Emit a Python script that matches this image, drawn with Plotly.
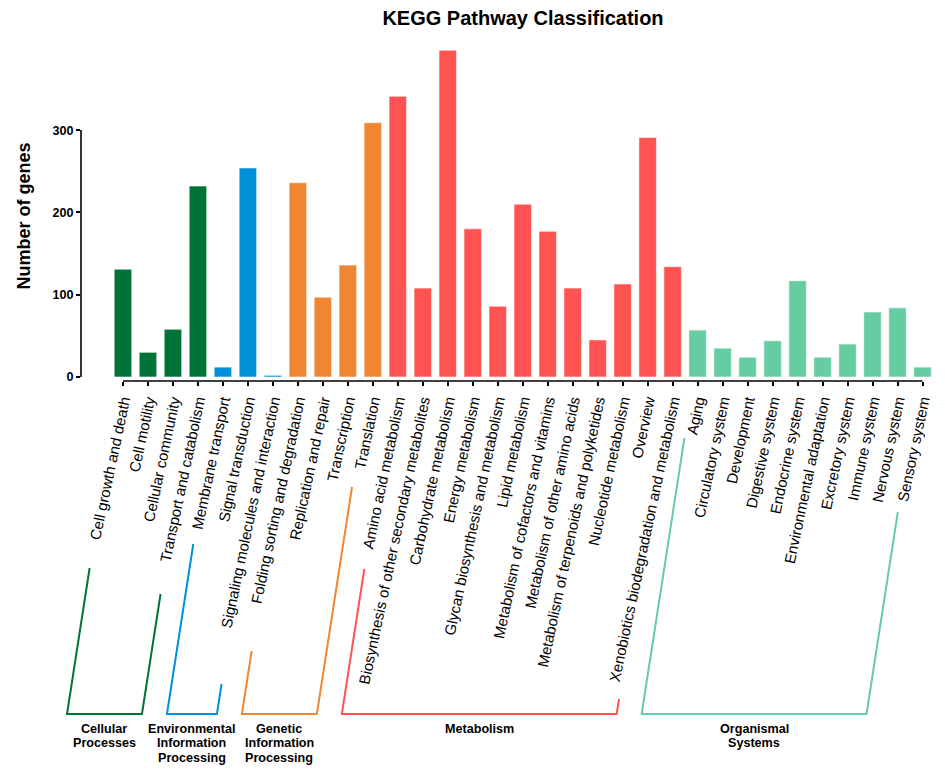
import plotly.graph_objects as go

# ---------------- data ----------------
categories = [
    "Cell growth and death", "Cell motility", "Cellular community", "Transport and catabolism",
    "Membrane transport", "Signal transduction", "Signaling molecules and interaction",
    "Folding sorting and degradation", "Replication and repair", "Transcription", "Translation",
    "Amino acid metabolism", "Biosynthesis of other secondary metabolites", "Carbohydrate metabolism",
    "Energy metabolism", "Glycan biosynthesis and metabolism", "Lipid metabolism",
    "Metabolism of cofactors and vitamins", "Metabolism of other amino acids",
    "Metabolism of terpenoids and polyketides", "Nucleotide metabolism", "Overview",
    "Xenobiotics biodegradation and metabolism",
    "Aging", "Circulatory system", "Development", "Digestive system", "Endocrine system",
    "Environmental adaptation", "Excretory system", "Immune system", "Nervous system", "Sensory system",
]
values = [
    131, 30, 58, 232,
    12, 254, 2,
    236, 97, 136, 309,
    341, 108, 397, 180, 86, 210, 177, 108, 45, 113, 291, 134,
    57, 35, 24, 44, 117, 24, 40, 79, 84, 12,
]
group_names = ["Cellular Processes", "Environmental Information Processing",
               "Genetic Information Processing", "Metabolism", "Organismal Systems"]
group_sizes = [4, 3, 4, 12, 10]
group_label_lines = [["Cellular", "Processes"], ["Environmental", "Information", "Processing"],
                     ["Genetic", "Information", "Processing"], ["Metabolism"], ["Organismal", "Systems"]]
group_colors = ["#007436", "#0090DA", "#F08632", "#FF5252", "#66CDA2"]
# pixel heights of the bracket arm tops (left, right) – decoration geometry
bracket_arm_tops = [(568, 594), (544, 684), (651, 487), (569, 699), (438, 512)]

bar_colors = []
for c, n in zip(group_colors, group_sizes):
    bar_colors += [c] * n

# ---------------- layout geometry ----------------
W, H = 945, 774
L, R, T, B = 81, 935.5, 40, 381
xmin, xmax = -1.68, 32.5
y_scale = 0.823  # px per unit
ymin = -(B - 377) / y_scale
ymax = (377 - T) / y_scale


def px_x(px):
    return (px - L) / (R - L)


def px_y(py):
    return (B - py) / (B - T)


def cat_px(i):
    return L + (i - xmin) * (R - L) / (xmax - xmin)


FONT = "Arial, Liberation Sans, sans-serif"

fig = go.Figure()
fig.add_trace(go.Bar(
    x=list(range(len(categories))), y=values, width=0.7,
    marker=dict(color=bar_colors, line=dict(color="rgba(255,255,255,0.55)", width=1)),
    showlegend=False,
))

shapes = []
annotations = []

# axis lines
shapes.append(dict(type="line", xref="paper", yref="y", x0=0, x1=0, y0=0, y1=300,
                   line=dict(color="black", width=1.6)))
shapes.append(dict(type="line", xref="x", yref="paper", x0=0, x1=len(categories) - 1, y0=0, y1=0,
                   line=dict(color="black", width=1.6)))

# group brackets + labels
slope = 0.155
bottom_py = 714
start = 0
for g, n in enumerate(group_sizes):
    first, last = start, start + n - 1
    bl = cat_px(first) - 56
    br = cat_px(last) - 56
    lt, rt = bracket_arm_tops[g]
    pts = [(bl + slope * (bottom_py - lt), lt), (bl, bottom_py), (br, bottom_py),
           (br + slope * (bottom_py - rt), rt)]
    path = "M " + " L ".join(f"{px_x(a):.5f},{px_y(b):.5f}" for a, b in pts)
    shapes.append(dict(type="path", xref="paper", yref="paper", path=path,
                       line=dict(color=group_colors[g], width=2)))
    cx = (bl + br) / 2
    for k, line in enumerate(group_label_lines[g]):
        annotations.append(dict(x=px_x(cx), y=px_y(729 + 14.3 * k), xref="paper", yref="paper",
                                text=line, showarrow=False, xanchor="center", yanchor="middle",
                                font=dict(family=FONT, size=12.6, color="black", weight="bold")))
    start += n

# y-axis title
annotations.append(dict(x=px_x(23.5), y=px_y(216), xref="paper", yref="paper",
                        text="Number of genes", textangle=-90, showarrow=False,
                        xanchor="center", yanchor="middle",
                        font=dict(family=FONT, size=18, color="black", weight="bold")))

fig.update_layout(
    width=W, height=H,
    margin=dict(l=L, r=W - R, t=T, b=H - B, pad=0),
    plot_bgcolor="white", paper_bgcolor="white",
    title=dict(text="KEGG Pathway Classification", x=523 / W, xref="container",
               y=1 - 18 / H, yref="container", xanchor="center", yanchor="middle",
               font=dict(family=FONT, size=20, color="black", weight="bold")),
    xaxis=dict(range=[xmin, xmax], tickmode="array", tickvals=list(range(len(categories))),
               ticktext=categories, tickangle=-78, ticks="outside", ticklen=4, tickwidth=1.5,
               tickcolor="black", showline=False, showgrid=False, zeroline=False,
               tickfont=dict(family=FONT, size=15, color="black")),
    yaxis=dict(range=[ymin, ymax], tickvals=[0, 100, 200, 300], ticks="outside", ticklen=4,
               tickwidth=1.5, tickcolor="black", showline=False, showgrid=False, zeroline=False,
               tickfont=dict(family=FONT, size=12.6, color="black", weight="bold")),
    shapes=shapes, annotations=annotations,
    bargap=0.3,
)

fig.write_html("out.html", config={"displayModeBar": False},
               post_script="document.body.style.margin='0';")
